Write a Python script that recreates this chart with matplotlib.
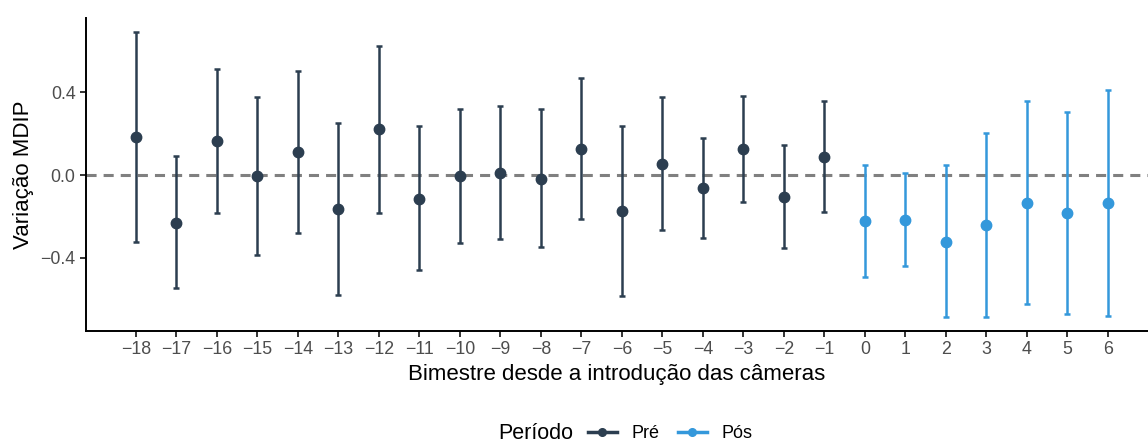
import numpy as np
import matplotlib
matplotlib.use("Agg")
from matplotlib import pyplot as plt
from matplotlib.lines import Line2D

plt.rcParams['font.family'] = ['Liberation Sans', 'DejaVu Sans']

# Bimestres and estimates
bimestre = list(range(-18, 7))
estimate = [0.183, -0.230, 0.162, -0.005, 0.109, -0.165, 0.220, -0.114, -0.005, 0.011,
            -0.019, 0.127, -0.172, 0.053, -0.064, 0.127, -0.104, 0.088,
            -0.223, -0.215, -0.321, -0.243, -0.137, -0.183, -0.135]
ci_high = [0.688, 0.092, 0.512, 0.374, 0.503, 0.251, 0.623, 0.235, 0.320, 0.331,
           0.317, 0.467, 0.238, 0.374, 0.180, 0.382, 0.145, 0.355,
           0.047, 0.010, 0.047, 0.204, 0.357, 0.304, 0.410]
ci_low = [-0.321, -0.546, -0.182, -0.386, -0.280, -0.580, -0.182, -0.459, -0.326, -0.307,
          -0.348, -0.212, -0.582, -0.265, -0.305, -0.129, -0.353, -0.177,
          -0.493, -0.439, -0.686, -0.686, -0.623, -0.670, -0.678]
periodo = ['Pré'] * 18 + ['Pós'] * 7

colors = {'Pré': '#2c3e50', 'Pós': '#3498db'}

x = np.array(bimestre)
y = np.array(estimate)
lo = np.array(ci_low)
hi = np.array(ci_high)
per = np.array(periodo)

fig = plt.figure(figsize=(11.48, 4.45), dpi=100)
ax = fig.add_axes([86 / 1148, 114 / 445, 1 - 86 / 1148, 313 / 445])

ax.axhline(0, color='#808080', lw=2.2, dashes=(3.3, 2.3), zorder=1)

for p in ['Pré', 'Pós']:
    m = per == p
    ax.errorbar(x[m], y[m], yerr=[y[m] - lo[m], hi[m] - y[m]], fmt='o',
                color=colors[p], ms=7.5, elinewidth=1.8, capsize=2.5, capthick=1.8,
                zorder=3)

ax.set_xlim(-19.23, 6.99)
ax.set_ylim(-0.752, 0.757)
ax.set_xticks(bimestre)
ax.set_xticklabels([str(b).replace('-', '\u2212') for b in bimestre])
ax.set_yticks([-0.4, 0.0, 0.4])
ax.set_yticklabels(['\u22120.4', '0.0', '0.4'])

for s in ['top', 'right']:
    ax.spines[s].set_visible(False)
for s in ['left', 'bottom']:
    ax.spines[s].set_linewidth(1.4)
    ax.spines[s].set_color('black')
ax.tick_params(axis='both', length=4.5, width=1.4, color='#333333',
               labelsize=12.8, labelcolor='#4d4d4d', pad=3)

ax.set_xlabel('Bimestre desde a introdução das câmeras', fontsize=16, color='black', labelpad=4)
ax.set_ylabel('Variação MDIP', fontsize=16, color='black', labelpad=5)

# legend at the bottom, title on the left like ggplot
handles = [Line2D([], [], color=colors[p], marker='o', lw=2.5, ms=5.5) for p in ['Pré', 'Pós']]
fig.text(536 / 1148, 0.026, 'Período', fontsize=15.5, ha='center', va='center')
fig.legend(handles, ['Pré', 'Pós'], loc='center left', bbox_to_anchor=(588 / 1148, 0.026),
           ncol=2, frameon=False, fontsize=13, handlelength=1.6, handletextpad=0.83,
           columnspacing=1.0, borderpad=0, borderaxespad=0)

fig.savefig('out.png', dpi=100)
